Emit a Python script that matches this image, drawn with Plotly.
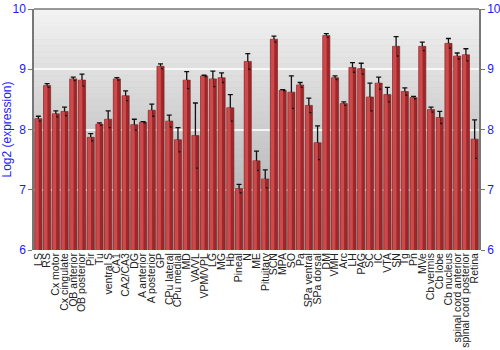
import plotly.graph_objects as go

categories = ["LS", "RS", "Cx motor", "Cx cingulate", "OB anterior", "OB posterior", "Pir", "Tu",
              "ventral S", "CA1", "CA2/CA3", "DG", "A anterior", "A posterior", "GP", "CPu lateral",
              "CPu medial", "MD", "VA/VL", "VPM/VPL", "LG", "MG", "Hb", "Pineal", "N", "ME",
              "Pituitary", "SCN", "MPA", "SO", "Pa", "SPa ventral", "SPa dorsal", "DM", "VMH", "Arc",
              "LH", "PAG", "SC", "IC", "VTA", "SN", "Tg", "Pn", "MVe", "Cb vermis", "Cb lobe",
              "Cb nucleus", "spinal cord anterior", "spinal cord posterior", "Retina"]

values = [8.18, 8.73, 8.26, 8.30, 8.84, 8.82, 7.87, 8.09,
          8.17, 8.84, 8.56, 8.08, 8.12, 8.32, 9.05, 8.14,
          7.83, 8.82, 7.90, 8.89, 8.84, 8.86, 8.36, 7.02, 9.13, 7.48,
          7.18, 9.50, 8.65, 8.62, 8.74, 8.40, 7.78, 9.56, 8.86, 8.43,
          9.03, 9.01, 8.54, 8.77, 8.58, 9.38, 8.63, 8.53, 9.38, 8.33, 8.20,
          9.43, 9.22, 9.24, 7.84]

errors = [0.04, 0.03, 0.05, 0.07, 0.03, 0.10, 0.06, 0.02,
          0.14, 0.02, 0.08, 0.09, 0.01, 0.10, 0.04, 0.10,
          0.20, 0.14, 0.54, 0.01, 0.13, 0.08, 0.22, 0.07, 0.13, 0.16,
          0.15, 0.05, 0.01, 0.27, 0.04, 0.12, 0.28, 0.03, 0.03, 0.03,
          0.08, 0.09, 0.23, 0.10, 0.12, 0.16, 0.06, 0.02, 0.07, 0.04, 0.10,
          0.08, 0.05, 0.10, 0.32]

y_ticks = [6, 7, 8, 9, 10]
y_range = [6, 10]

fig = go.Figure()

# main bar body (darker red)
fig.add_trace(go.Bar(
    x=categories, y=values,
    marker=dict(color="#a02628", line=dict(color="#7a1c1e", width=0.6)),
    width=0.82,
    error_y=dict(type="data", array=errors, color="#111111", thickness=1.3, width=2.5),
    showlegend=False, hoverinfo="skip",
))
# lighter highlight strip (left part of bar)
fig.add_trace(go.Bar(
    x=categories, y=values,
    marker=dict(color="#cc4a4c", line=dict(width=0)),
    width=0.4, offset=-0.36,
    showlegend=False, hoverinfo="skip",
))
# dummy trace for right axis
fig.add_trace(go.Scatter(x=[categories[0]], y=[6], yaxis="y2", mode="markers",
                         marker=dict(opacity=0), showlegend=False, hoverinfo="skip"))

# background gradient with thin rect shapes
n = 40
shapes = []
for i in range(n):
    t = i / (n - 1)
    g = int(242 - t * (242 - 168))
    shapes.append(dict(type="rect", xref="paper", yref="paper",
                       x0=0, x1=1, y0=1 - (i + 1) / n, y1=1 - i / n,
                       fillcolor=f"rgb({g},{g},{g})", line=dict(width=0), layer="below"))
# top border
shapes.append(dict(type="line", xref="paper", yref="paper", x0=0, x1=1, y0=1, y1=1,
                   line=dict(color="#777777", width=1.5)))

fig.update_layout(
    width=500, height=350,
    margin=dict(l=34, r=21, t=9, b=100, autoexpand=False),
    paper_bgcolor="white", plot_bgcolor="#d0d0d0",
    barmode="overlay",
    shapes=shapes,
    font=dict(family="Liberation Sans, Arial, sans-serif"),
    xaxis=dict(tickangle=-90, tickfont=dict(size=10.5, color="#222222"),
               tickmode="array", tickvals=categories, ticktext=categories,
               automargin=False,
               showgrid=False, ticks="", showline=False, range=[-0.5, len(categories) - 0.5]),
    yaxis=dict(range=y_range, tickvals=y_ticks, tickfont=dict(size=12, color="#1a1aff"),
               title=dict(text="Log2 (expression)", font=dict(size=12, color="#1a1aff"), standoff=4),
               automargin=False,
               showgrid=True, gridcolor="rgba(255,255,255,0.8)", gridwidth=1.5,
               showline=True, linecolor="#777777", linewidth=1.5,
               ticks="outside", ticklen=4, tickcolor="#777777", zeroline=False),
    yaxis2=dict(range=y_range, tickvals=y_ticks, overlaying="y", side="right",
                automargin=False,
                tickfont=dict(size=12, color="#1a1aff"), showgrid=False,
                showline=True, linecolor="#777777", linewidth=1.5,
                ticks="outside", ticklen=4, tickcolor="#777777", zeroline=False),
)

fig.write_html("out.html")
